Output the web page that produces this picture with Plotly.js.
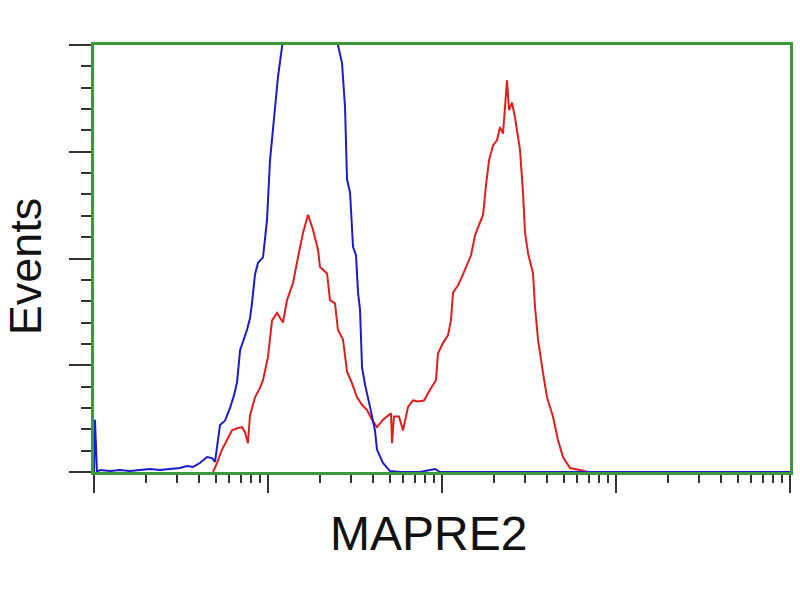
<!DOCTYPE html>
<html>
<head>
<meta charset="utf-8">
<script src="https://cdn.plot.ly/plotly-3.0.1.min.js"></script>
<style>html,body{margin:0;padding:0;background:#fff;}#chart{width:800px;height:600px;}</style>
</head>
<body>
<div id="chart"></div>
<script>
// Fluorescence intensity (log scale) and event counts
const blueX = [1, 1.013, 1.04, 1.083, 1.236, 1.41, 1.61, 1.84, 2.10, 2.39, 2.73, 3.12, 3.42, 3.71, 4.06, 4.46, 4.77, 4.96, 5.16, 5.30, 5.66, 6.05, 6.38, 6.64, 6.91, 7.28, 7.57, 7.88, 8.09, 8.42, 8.76, 9.36, 9.87, 10.27, 10.69, 11.41, 12.03, 13.37, 15.27, 17.90, 20.43, 22.71, 24.59, 25.24, 26.63, 27.71, 28.46, 29.61, 30.80, 32.05, 32.91, 33.80, 34.71, 36.10, 38.56, 41.19, 42.30, 45.78, 50.25, 57.37, 74.8, 91.2, 97.4, 215, 10000];
const blueY = [0, 49, 0, 1.9, 0.9, 1.9, 0.9, 1.9, 2.8, 1.9, 2.8, 3.7, 5.6, 4.7, 8.4, 14, 13, 9.4, 30, 44, 48, 60, 72, 84, 114, 124, 133, 144, 158, 185, 196, 201, 236, 292, 323, 370, 398, 470, 536, 564, 545, 480, 423, 400, 383, 342, 274, 262, 211, 203, 168, 152, 98, 82, 61, 39, 21, 8.4, 0.9, 0, 0, 2.8, 0, 0, 0];

const redX = [4.83, 5.09, 5.44, 5.81, 6.21, 6.64, 7.09, 7.38, 7.67, 7.88, 8.42, 9.00, 9.36, 10.0, 10.55, 11.27, 12.19, 12.86, 13.92, 14.87, 15.89, 16.98, 18.14, 19.38, 19.90, 21.84, 22.71, 24.27, 25.24, 26.98, 28.46, 30.39, 32.47, 34.71, 37.08, 39.62, 42.30, 45.78, 48.93, 50.95, 51.6, 52.97, 56.6, 59.7, 63.8, 68.1, 72.8, 78.8, 85.3, 92.4, 94.8, 101.4, 108.2, 112.6, 115.7, 123.6, 130.3, 139.3, 146.8, 154.9, 163.3, 172.1, 179.1, 186.4, 196.5, 207.2, 215.4, 224.2, 230.2, 236.4, 242.7, 252.5, 262.8, 273.4, 280.7, 292.3, 300.1, 312.2, 333.4, 342.3, 356.4, 380.4, 401.1, 434.3, 464.0, 495.7, 544.4, 621, 690];
const redY = [0, 8.4, 21, 30, 39, 41, 42, 37, 27, 53, 70, 79, 86, 108, 142, 149, 140, 161, 177, 201, 224, 241, 227, 208, 192, 186, 161, 158, 133, 124, 94, 83, 70, 63, 58, 49, 42, 49, 53, 55, 27, 52, 52, 39, 61, 67, 66, 67, 77, 86, 111, 121, 128, 142, 168, 175, 183, 194, 203, 222, 231, 241, 269, 292, 306, 311, 323, 317, 342, 367, 339, 346, 332, 316, 302, 261, 224, 205, 186, 155, 124, 93, 70, 52, 30, 14, 3.7, 1.9, 0];

const xMinorTicks = [2,3,4,5,6,7,8,9,20,30,40,50,60,70,80,90,200,300,400,500,600,700,800,900,2000,3000,4000,5000,6000,7000,8000,9000];
const xTitle = "MAPRE2";
const yTitle = "Events";

const green = "#3a9a3a";
const tickCol = "#333333";

const traces = [
  {x: redX, y: redY, type: "scatter", mode: "lines", line: {color: "#e01e1e", width: 2}, hoverinfo: "skip"},
  {x: blueX, y: blueY, type: "scatter", mode: "lines", line: {color: "#1c1cc8", width: 2}, hoverinfo: "skip"}
];

const layout = {
  width: 800, height: 600,
  paper_bgcolor: "#ffffff", plot_bgcolor: "#ffffff",
  showlegend: false,
  margin: {l: 94, r: 10, t: 45, b: 128},
  xaxis: {
    type: "log", range: [0, 4], showgrid: false, zeroline: false,
    showline: true, linecolor: green, linewidth: 3, mirror: true,
    ticks: "outside", tickvals: [1, 10, 100, 1000, 10000], ticklen: 18, tickwidth: 2, tickcolor: tickCol,
    showticklabels: false,
    minor: {tickmode: "array", tickvals: xMinorTicks, ticks: "outside", ticklen: 8, tickwidth: 2, tickcolor: tickCol, showgrid: false}
  },
  yaxis: {
    range: [0, 400], showgrid: false, zeroline: false,
    showline: true, linecolor: green, linewidth: 3, mirror: true,
    ticks: "outside", tickmode: "linear", tick0: 0, dtick: 100, ticklen: 22, tickwidth: 2, tickcolor: tickCol,
    showticklabels: false,
    minor: {tickmode: "linear", tick0: 0, dtick: 20, ticks: "outside", ticklen: 10, tickwidth: 2, tickcolor: tickCol, showgrid: false}
  },
  annotations: [
    {text: xTitle, xref: "paper", yref: "paper", x: 0.481, y: -0.145, xanchor: "center", yanchor: "middle", showarrow: false,
     font: {family: "Liberation Sans, Arial, sans-serif", size: 48, color: "#111111"}},
    {text: yTitle, xref: "paper", yref: "paper", x: -0.099, y: 0.482, xanchor: "center", yanchor: "middle", textangle: -90, showarrow: false,
     font: {family: "Liberation Sans, Arial, sans-serif", size: 45, color: "#111111"}}
  ]
};

Plotly.newPlot("chart", traces, layout, {staticPlot: true, displayModeBar: false});
</script>
</body>
</html>
